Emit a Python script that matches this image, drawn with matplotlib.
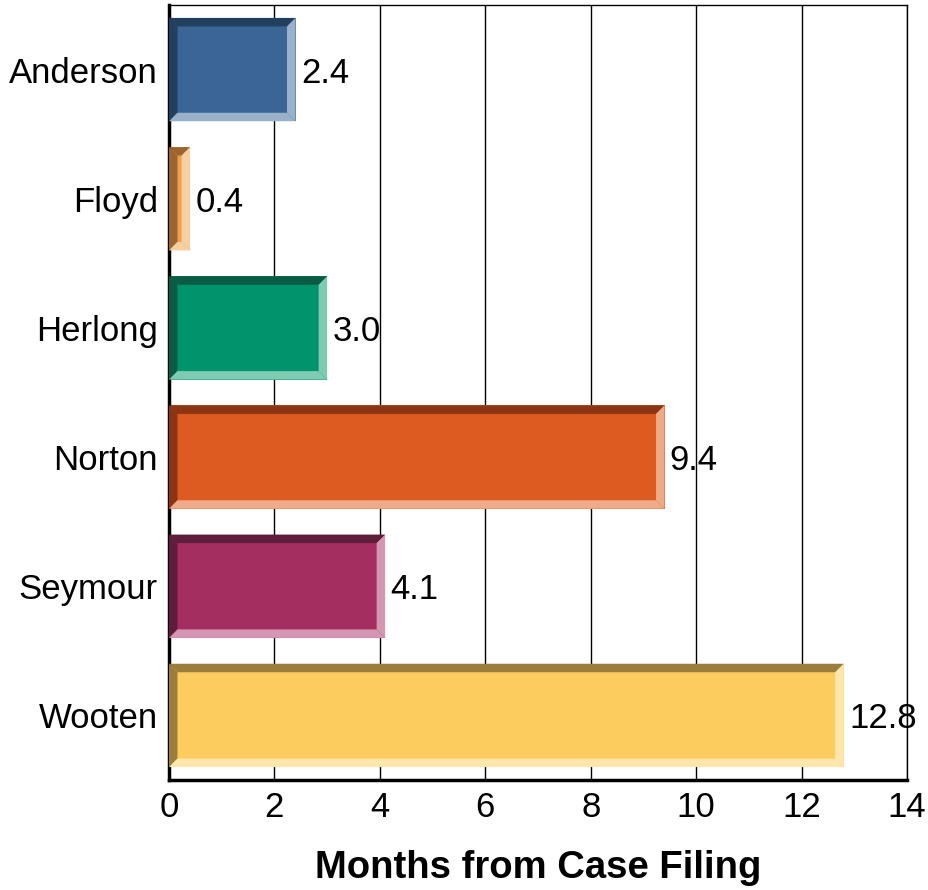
import matplotlib
matplotlib.use("Agg")
import matplotlib.pyplot as plt
from matplotlib.patches import Polygon

categories = ["Anderson", "Floyd", "Herlong", "Norton", "Seymour", "Wooten"]
values = [2.4, 0.4, 3.0, 9.4, 4.1, 12.8]
value_labels = ["2.4", "0.4", "3.0", "9.4", "4.1", "12.8"]
main_colors = ["#3A6595", "#EFA04A", "#00936C", "#DD5A20", "#A32E5F", "#FDCC5F"]
dark_colors = ["#233F5E", "#9C6530", "#0B5A44", "#8B3515", "#5E1D3A", "#9C7E3C"]
light_colors = ["#9BB1CB", "#F8CFA0", "#7FCAB3", "#EFAA8A", "#D596B2", "#FFE6AD"]
xticks = [0, 2, 4, 6, 8, 10, 12, 14]

plt.rcParams['font.family'] = ['Liberation Sans', 'DejaVu Sans']

fig = plt.figure(figsize=(9.29, 8.9), dpi=100)
ax = fig.add_axes([169/929, 1-780/890, (907-169)/929, (780-5)/890])
ax.set_xlim(0, 14)
ax.set_ylim(5.5, -0.5)

ax.set_xticks(xticks)
ax.set_xticklabels([str(t) for t in xticks], fontsize=25)
ax.set_yticks(range(len(categories)))
ax.set_yticklabels(categories, fontsize=25)
ax.tick_params(axis='y', length=0, pad=8)
ax.tick_params(axis='x', length=0, pad=8)
ax.grid(axis='x', color='black', linewidth=1.0, zorder=0)
ax.set_axisbelow(True)

for s in ['left', 'bottom']:
    ax.spines[s].set_linewidth(2.5)
for s in ['top', 'right']:
    ax.spines[s].set_linewidth(1.0)

ax.set_xlabel("Months from Case Filing", fontsize=27.5, fontweight='bold', labelpad=19)

bw_px = 8.5
dx = bw_px * 14 / (907 - 169)
dy = bw_px * 6 / (780 - 5)
h = 0.8

for i, (v, mc, dc, lc) in enumerate(zip(values, main_colors, dark_colors, light_colors)):
    y0 = i - h/2
    y1 = i + h/2
    x0, x1 = 0, v
    bx = min(dx, v/2)
    ax.add_patch(Polygon([(x0, y0), (x1, y0), (x1, y1), (x0, y1)], closed=True,
                         facecolor=mc, edgecolor='none', zorder=2))
    ax.add_patch(Polygon([(x0, y0), (x1, y0), (x1-bx, y0+dy), (x0+bx, y0+dy)], closed=True,
                         facecolor=dc, edgecolor='none', zorder=3))
    ax.add_patch(Polygon([(x0, y0), (x0+bx, y0+dy), (x0+bx, y1-dy), (x0, y1)], closed=True,
                         facecolor=dc, edgecolor='none', zorder=3))
    ax.add_patch(Polygon([(x1, y0), (x1, y1), (x1-bx, y1-dy), (x1-bx, y0+dy)], closed=True,
                         facecolor=lc, edgecolor='none', zorder=3))
    ax.add_patch(Polygon([(x0, y1), (x0+bx, y1-dy), (x1-bx, y1-dy), (x1, y1)], closed=True,
                         facecolor=lc, edgecolor='none', zorder=3))
    ax.text(v + 0.1, i, value_labels[i], va='center_baseline', ha='left', fontsize=25, zorder=5)

fig.savefig("out.png", dpi=100)
